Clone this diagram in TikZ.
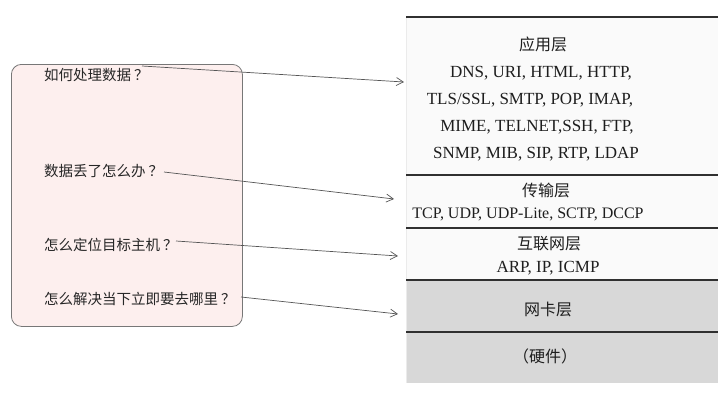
\documentclass[tikz,border=0pt]{standalone}
\usepackage{fontspec}
\setmainfont{Liberation Serif}
\newfontfamily\cjk{Noto Sans CJK SC}
\usetikzlibrary{arrows.meta}
\definecolor{boxfill}{HTML}{FDEFEE}
\definecolor{boxline}{HTML}{777777}
\definecolor{arrowc}{HTML}{555555}
\definecolor{layergray}{HTML}{D8D8D8}
\definecolor{layerline}{HTML}{303030}
\definecolor{txt}{HTML}{1E1E1E}
\begin{document}
\begin{tikzpicture}[x=1pt,y=-1pt,
  question/.style={anchor=west,inner sep=0pt,font=\cjk\fontsize{14.5}{16}\selectfont,text=black!85},
  layercn/.style={inner sep=0pt,font=\cjk\fontsize{16}{18}\selectfont,text=txt},
  proto/.style={inner sep=0pt,font=\fontsize{17}{19}\selectfont,text=txt},
  sep/.style={line width=2pt,draw=layerline},
  link/.style={draw=arrowc,line width=0.7pt,-{Straight Barb[length=7pt,width=8pt,line width=0.7pt]}}]
\useasboundingbox (0,0) rectangle (728,400);
\fill[white] (0,0) rectangle (728,400);
% left box
\node[draw=boxline,fill=boxfill,rounded corners=10pt,line width=0.8pt,minimum width=231pt,minimum height=262pt,anchor=north west,inner sep=0pt] (box) at (11,64) {};
\node[question] (q1) at (44,75) {如何处理数据\hspace{3pt}？};
\node[question] (q2) at (44,171) {数据丢了怎么办\hspace{3pt}？};
\node[question] (q3) at (44,245) {怎么定位目标主机\hspace{3pt}？};
\node[question] (q4) at (44,299) {怎么解决当下立即要去哪里\hspace{3pt}？};
% right stack
\fill[white!98!black] (406,17) rectangle (718,280);
\fill[layergray] (406,280) rectangle (718,383);
\draw[white!92!black,line width=0.6pt] (406,17) -- (406,383);
\draw[sep] (406,17) -- (718,17);
\draw[sep] (406,175) -- (718,175);
\draw[sep] (406,228) -- (718,228);
\draw[sep] (406,280) -- (718,280);
\draw[sep] (406,332) -- (718,332);
\node[layercn] (app) at (543,44) {应用层};
\node[proto] (p1) at (541,73) {DNS, URI, HTML, HTTP,};
\node[proto] (p2) at (530,100) {TLS/SSL, SMTP, POP, IMAP,};
\node[proto] (p3) at (537,127) {MIME, TELNET,SSH, FTP,};
\node[proto] (p4) at (536,154) {SNMP, MIB, SIP, RTP, LDAP};
\node[layercn] (trans) at (546,190) {传输层};
\node[proto,font=\fontsize{16}{18}\selectfont] (p5) at (528,214) {TCP, UDP, UDP-Lite, SCTP, DCCP};
\node[layercn] (inet) at (549,244) {互联网层};
\node[proto] (p6) at (548,268) {ARP, IP, ICMP};
\node[layercn] (nic) at (548,309) {网卡层};
\node[layercn] (hw) at (545,356) {（硬件）};
% connector ends
\coordinate (s1) at (142,66);
\coordinate (s2) at (164,172);
\coordinate (s3) at (176,241);
\coordinate (s4) at (241,297);
\coordinate (t1) at (404,82);
\coordinate (t2) at (394,199);
\coordinate (t3) at (398,256);
\coordinate (t4) at (398,314);
\draw[link] (s1) -- (t1);
\draw[link] (s2) -- (t2);
\draw[link] (s3) -- (t3);
\draw[link] (s4) -- (t4);
\end{tikzpicture}
\end{document}
